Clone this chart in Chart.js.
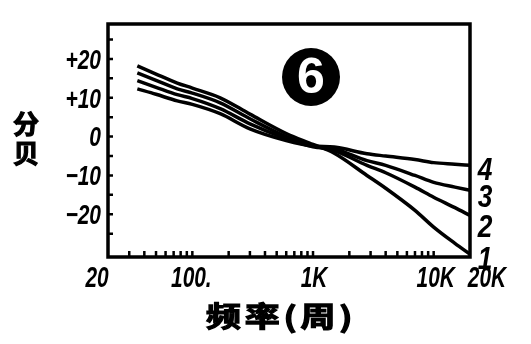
<!DOCTYPE html>
<html><head><meta charset="utf-8">
<script src="https://cdn.jsdelivr.net/npm/chart.js@4"></script>
<style>html,body{margin:0;padding:0;background:#fff;}</style>
</head><body>
<canvas id="c" width="531" height="344"></canvas>
<script>
// ---- data ----
const frequencies = [35, 50, 75, 100, 170, 300, 600, 1000, 1500, 2800, 4000, 7000, 10000, 15000, 20000];
const curve1 = [18.2, 16.1, 13.8, 12.5, 10.0, 5.8, 0.8, -2.0, -4.3, -10.0, -13.3, -19.0, -23.3, -27.5, -30.3];
const curve2 = [16.4, 14.5, 12.3, 11.2, 8.7, 4.6, 0.0, -2.4, -3.6, -7.4, -9.3, -13.0, -15.6, -18.3, -20.3];
const curve3 = [14.4, 12.7, 10.8, 9.8, 7.2, 3.3, -0.5, -2.6, -3.2, -6.2, -7.4, -10.0, -11.8, -13.0, -13.8];
const curve4 = [12.3, 10.9, 9.2, 8.3, 5.9, 2.0, -1.0, -2.4, -2.7, -4.4, -5.0, -5.9, -6.7, -7.1, -7.4];
const curveNames = ['1', '2', '3', '4'];
const yTickValues = [-20, -10, 0, 10, 20];
const yTickLabels = ['−20', '−10', '0', '+10', '+20'];
const yMinorTicks = [-25, -15, -5, 5, 15, 25];
const xTickValues = [20, 100, 1000, 10000, 20000];
const xTickLabels = ['20', '100.', '1K', '10K', '20K'];
const xMinorTicks = [30, 40, 50, 60, 70, 80, 90, 100, 200, 300, 400, 500, 600, 700, 800, 900, 1000,
                     2000, 3000, 4000, 5000, 6000, 7000, 8000, 9000, 10000];
const yTitle = ['分', '贝'];
const xTitle = '频率(周)';
const badge = '6';

const NUMFONT = '"Liberation Sans", Arial, sans-serif';
const series = [curve1, curve2, curve3, curve4];

function narrowText(ctx, text, x, y, size, sx, align) {
  ctx.save();
  ctx.translate(x, y);
  ctx.scale(sx, 1);
  ctx.font = 'italic bold ' + size + 'px ' + NUMFONT;
  ctx.textAlign = align;
  ctx.textBaseline = 'middle';
  ctx.fillText(text, 0, 0);
  ctx.restore();
}

const decor = {
  id: 'decor',
  afterDraw(chart) {
    const ctx = chart.ctx, a = chart.chartArea;
    const xs = chart.scales.x, ys = chart.scales.y;
    ctx.save();
    ctx.fillStyle = '#000';
    ctx.strokeStyle = '#000';
    // frame
    ctx.lineWidth = 3.5;
    ctx.strokeRect(a.left, a.top, a.right - a.left, a.bottom - a.top);
    // inward ticks
    ctx.lineWidth = 2.5;
    ctx.beginPath();
    xMinorTicks.forEach(v => {
      const px = xs.getPixelForValue(v);
      ctx.moveTo(px, a.bottom);
      ctx.lineTo(px, a.bottom - 6);
    });
    yTickValues.concat(yMinorTicks).forEach(v => {
      const py = ys.getPixelForValue(v);
      ctx.moveTo(a.left, py);
      ctx.lineTo(a.left + 5, py);
    });
    ctx.stroke();
    // y tick labels
    yTickValues.forEach((v, i) => {
      narrowText(ctx, yTickLabels[i], a.left - 7, ys.getPixelForValue(v) + 2, 28, 0.75, 'right');
    });
    // x tick labels
    const nudge = [-11, -1, 1, 2, 17];
    xTickValues.forEach((v, i) => {
      narrowText(ctx, xTickLabels[i], xs.getPixelForValue(v) + nudge[i], a.bottom + 22, 29, 0.72, 'center');
    });
    // curve labels
    const labY = [260, 228, 198, 171];
    curveNames.forEach((n, i) => {
      narrowText(ctx, n, a.right + 15, labY[i], 31, 0.85, 'center');
    });
    // y title
    ctx.font = 'bold 26px "Noto Sans CJK SC", sans-serif';
    ctx.textAlign = 'center';
    ctx.textBaseline = 'middle';
    ctx.lineWidth = 1.2;
    [[yTitle[0], 124], [yTitle[1], 153]].forEach(([t, y]) => {
      ctx.fillText(t, 26, y);
      ctx.strokeText(t, 26, y);
    });
    // x title
    ctx.save();
    ctx.translate(281, 316);
    ctx.scale(1.25, 1);
    ctx.font = 'bold 28px "Noto Sans CJK SC", sans-serif';
    ctx.letterSpacing = '3px';
    ctx.lineWidth = 1.2;
    ctx.fillText(xTitle, 0, 0);
    ctx.strokeText(xTitle, 0, 0);
    ctx.restore();
    // badge
    ctx.beginPath();
    ctx.arc(311, 77, 29, 0, Math.PI * 2);
    ctx.fill();
    ctx.fillStyle = '#fff';
    ctx.font = 'bold 50px "Liberation Sans", sans-serif';
    ctx.textAlign = 'center';
    ctx.textBaseline = 'middle';
    ctx.fillText(badge, 311, 79);
    ctx.restore();
  }
};

new Chart(document.getElementById('c'), {
  type: 'line',
  data: {
    datasets: series.map((s, i) => ({
      label: curveNames[i],
      data: frequencies.map((f, j) => ({ x: f, y: s[j] })),
      borderColor: '#000',
      borderWidth: 3.5,
      pointRadius: 0,
      fill: false,
      cubicInterpolationMode: 'monotone'
    }))
  },
  options: {
    responsive: false,
    animation: false,
    devicePixelRatio: 1,
    layout: { padding: { left: 108, right: 61, top: 24, bottom: 87 } },
    plugins: { legend: { display: false }, tooltip: { enabled: false } },
    scales: {
      x: { type: 'logarithmic', min: 20, max: 20000, display: false },
      y: { type: 'linear', min: -31, max: 29, display: false }
    }
  },
  plugins: [decor]
});
</script>
</body></html>
